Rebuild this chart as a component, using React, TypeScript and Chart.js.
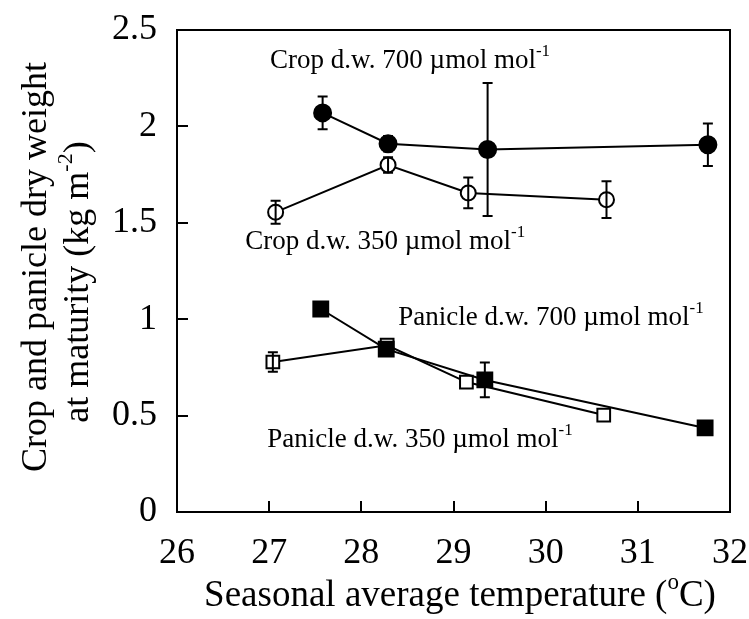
import React, { useEffect, useRef } from "react";
import { Chart, registerables } from "chart.js";

Chart.register(...registerables);

// ---- data ----
const crop700X = [27.58, 28.29, 29.37, 31.76];
const crop700Y = [2.07, 1.91, 1.88, 1.905];
const crop700Err = [0.085, 0.04, 0.345, 0.11];

const crop350X = [27.07, 28.29, 29.16, 30.66];
const crop350Y = [1.555, 1.8, 1.655, 1.62];
const crop350Err = [0.06, 0.04, 0.08, 0.095];

const panicle700X = [27.56, 28.27, 29.34, 31.73];
const panicle700Y = [1.053, 0.845, 0.685, 0.436];
const panicle700Err = [0.0, 0.0, 0.09, 0.0];

const panicle350X = [27.04, 28.28, 29.14, 30.63];
const panicle350Y = [0.778, 0.865, 0.674, 0.503];
const panicle350Err = [0.05, 0.0, 0.0, 0.0];

const xMin = 26;
const xMax = 32;
const xStep = 1;
const yMin = 0;
const yMax = 2.5;
const yStep = 0.5;

const xTitle = ["Seasonal average temperature (", "o", "C)"];
const yTitle1 = "Crop and panicle dry weight";
const yTitle2 = ["at maturity (kg m", "-2", ")"];

// series labels: text, superscript, anchor (data units: left x, baseline y)
const seriesLabels = [
  { text: "Crop d.w. 700 \u00b5mol mol", sup: "-1", x: 27.01, y: 2.303 },
  { text: "Crop d.w. 350 \u00b5mol mol", sup: "-1", x: 26.74, y: 1.364 },
  { text: "Panicle d.w. 700 \u00b5mol mol", sup: "-1", x: 28.4, y: 0.97 },
  { text: "Panicle d.w. 350 \u00b5mol mol", sup: "-1", x: 26.98, y: 0.337 },
];

const FONT = "'Liberation Serif', 'Times New Roman', serif";

const pts = (xs: number[], ys: number[]) => xs.map((x, i) => ({ x, y: ys[i] }));

function drawParts(
  ctx: CanvasRenderingContext2D,
  parts: { t: string; sup?: boolean }[],
  x: number,
  y: number,
  size: number,
  align: "left" | "center"
) {
  const supSize = Math.round(size * 0.62);
  let total = 0;
  const widths = parts.map((p) => {
    ctx.font = `${p.sup ? supSize : size}px ${FONT}`;
    const w = ctx.measureText(p.t).width;
    total += w;
    return w;
  });
  let cx = align === "center" ? x - total / 2 : x;
  ctx.textAlign = "left";
  ctx.textBaseline = "alphabetic";
  parts.forEach((p, i) => {
    ctx.font = `${p.sup ? supSize : size}px ${FONT}`;
    ctx.fillText(p.t, cx, p.sup ? y - size * 0.45 : y);
    cx += widths[i];
  });
}

const overlayPlugin = {
  id: "overlay",
  afterDatasetsDraw(chart: any) {
    const ctx: CanvasRenderingContext2D = chart.ctx;
    const xs = chart.scales.x;
    const ys = chart.scales.y;
    ctx.save();
    ctx.strokeStyle = "#000";
    ctx.lineWidth = 2;
    chart.data.datasets.forEach((ds: any) => {
      const errs: number[] = ds.errors || [];
      ds.data.forEach((p: any, i: number) => {
        const e = errs[i] || 0;
        if (!e) return;
        const px = xs.getPixelForValue(p.x);
        const t = ys.getPixelForValue(p.y + e);
        const b = ys.getPixelForValue(p.y - e);
        ctx.beginPath();
        ctx.moveTo(px, t);
        ctx.lineTo(px, b);
        ctx.moveTo(px - 5, t);
        ctx.lineTo(px + 5, t);
        ctx.moveTo(px - 5, b);
        ctx.lineTo(px + 5, b);
        ctx.stroke();
      });
    });
    ctx.restore();
  },
  afterDraw(chart: any) {
    const ctx: CanvasRenderingContext2D = chart.ctx;
    const a = chart.chartArea;
    const xs = chart.scales.x;
    const ys = chart.scales.y;
    ctx.save();
    ctx.strokeStyle = "#000";
    ctx.fillStyle = "#000";
    ctx.lineWidth = 2;
    ctx.strokeRect(a.left, a.top, a.right - a.left, a.bottom - a.top);
    // inward ticks
    ctx.beginPath();
    for (let v = yMin; v <= yMax + 1e-9; v += yStep) {
      const py = Math.round(ys.getPixelForValue(v));
      ctx.moveTo(a.left, py);
      ctx.lineTo(a.left + 11, py);
    }
    for (let v = xMin; v <= xMax + 1e-9; v += xStep) {
      const px = Math.round(xs.getPixelForValue(v));
      ctx.moveTo(px, a.bottom);
      ctx.lineTo(px, a.bottom - 11);
    }
    ctx.stroke();

    // series labels
    seriesLabels.forEach((l) => {
      drawParts(
        ctx,
        [{ t: l.text }, { t: l.sup, sup: true }],
        xs.getPixelForValue(l.x),
        ys.getPixelForValue(l.y),
        27,
        "left"
      );
    });

    // x title
    drawParts(
      ctx,
      [{ t: xTitle[0] }, { t: xTitle[1], sup: true }, { t: xTitle[2] }],
      460,
      606,
      37,
      "center"
    );

    // y title (two lines, rotated)
    ctx.save();
    ctx.translate(46, 267);
    ctx.rotate(-Math.PI / 2);
    drawParts(ctx, [{ t: yTitle1 }], 0, 0, 36, "center");
    ctx.restore();
    ctx.save();
    ctx.translate(88, 282);
    ctx.rotate(-Math.PI / 2);
    drawParts(
      ctx,
      [{ t: yTitle2[0] }, { t: yTitle2[1], sup: true }, { t: yTitle2[2] }],
      0,
      0,
      36,
      "center"
    );
    ctx.restore();
    ctx.restore();
  },
};

export default function App() {
  const ref = useRef<HTMLCanvasElement | null>(null);

  useEffect(() => {
    if (!ref.current) return;
    const base = {
      showLine: true,
      borderColor: "#000",
      borderWidth: 2,
      pointBorderWidth: 2,
      pointBorderColor: "#000",
    };
    const zeroPad = (s: any) => {
      s.paddingTop = 0;
      s.paddingBottom = 0;
      s.paddingLeft = 0;
      s.paddingRight = 0;
    };
    const chart = new Chart(ref.current, {
      type: "scatter",
      data: {
        datasets: [
          {
            ...base,
            label: "Panicle 700",
            data: pts(panicle700X, panicle700Y),
            errors: panicle700Err,
            pointStyle: "rect",
            pointRadius: 10.5,
            pointBackgroundColor: "#000",
          } as any,
          {
            ...base,
            label: "Panicle 350",
            data: pts(panicle350X, panicle350Y),
            errors: panicle350Err,
            pointStyle: "rect",
            pointRadius: 9,
            pointBackgroundColor: "#fff",
          } as any,
          {
            ...base,
            label: "Crop 350",
            data: pts(crop350X, crop350Y),
            errors: crop350Err,
            pointStyle: "circle",
            pointRadius: 7.5,
            pointBackgroundColor: "#fff",
          } as any,
          {
            ...base,
            label: "Crop 700",
            data: pts(crop700X, crop700Y),
            errors: crop700Err,
            pointStyle: "circle",
            pointRadius: 8.5,
            pointBackgroundColor: "#000",
          } as any,
        ],
      },
      options: {
        animation: false,
        responsive: false,
        devicePixelRatio: 1,
        layout: { padding: { top: 30, right: 19, left: 0, bottom: 0 } },
        plugins: {
          legend: { display: false },
          tooltip: { enabled: false },
        },
        scales: {
          x: {
            type: "linear",
            min: xMin,
            max: xMax,
            grid: { display: false },
            border: { display: false },
            ticks: {
              stepSize: xStep,
              color: "#000",
              padding: 12,
              font: { family: FONT, size: 36 },
              maxRotation: 0,
            },
            afterFit: (s: any) => {
              s.height = 107;
              zeroPad(s);
            },
          },
          y: {
            type: "linear",
            min: yMin,
            max: yMax,
            grid: { display: false },
            border: { display: false },
            ticks: {
              stepSize: yStep,
              color: "#000",
              padding: 12,
              font: { family: FONT, size: 36 },
              callback: (v: any) => String(Number(v)),
            },
            afterFit: (s: any) => {
              s.width = 177;
              zeroPad(s);
            },
          },
        },
      } as any,
      plugins: [overlayPlugin],
    });
    return () => chart.destroy();
  }, []);

  return (
    <div style={{ position: "absolute", left: 0, top: 0, width: 749, height: 619, background: "#fff" }}>
      <canvas ref={ref} width={749} height={619} />
    </div>
  );
}
